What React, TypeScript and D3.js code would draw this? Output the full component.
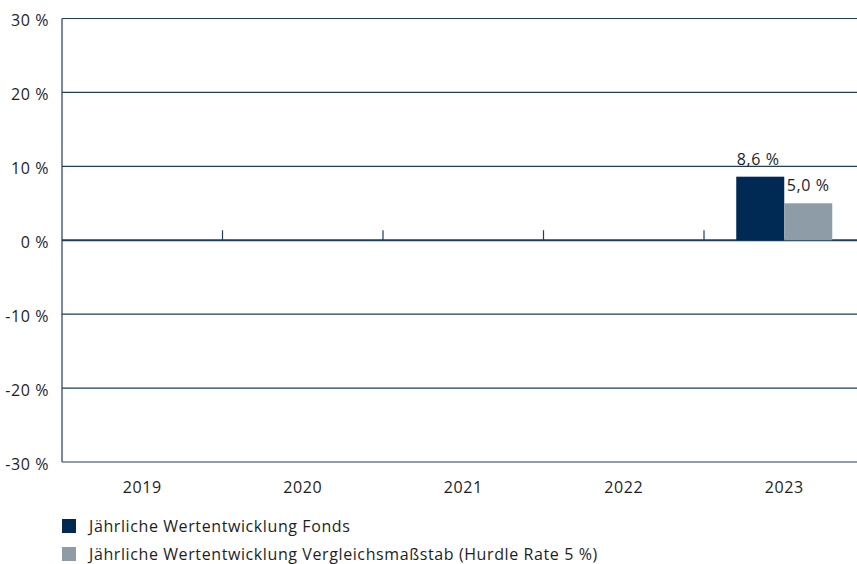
import React from "react";
import * as d3 from "d3";

const categories = ["2019", "2020", "2021", "2022", "2023"];
const fondsValues: (number | null)[] = [null, null, null, null, 8.6];
const benchmarkValues: (number | null)[] = [null, null, null, null, 5.0];
const yTicks = [-30, -20, -10, 0, 10, 20, 30];
const legendLabels = [
  "Jährliche Wertentwicklung Fonds",
  "Jährliche Wertentwicklung Vergleichsmaßstab (Hurdle Rate 5 %)",
];
const seriesColors = ["#002a54", "#8d9ca6"];

const W = 857;
const H = 564;
const FONT = "'Open Sans', 'Noto Sans', sans-serif";
const GRID = "#1d3d66";
const TEXT = "#1e1e1e";
const FS = 16;
const LS = 0.6;

export default function App() {
  const left = 62;
  const bandW = 160.5;
  const x = d3
    .scaleBand<string>()
    .domain(categories)
    .range([left, left + bandW * categories.length])
    .paddingInner(0)
    .paddingOuter(0);
  const y = d3.scaleLinear().domain([-30, 30]).range([462, 18.5]);
  const barW = 48;

  return (
    <svg
      width={W}
      height={H}
      style={{ position: "absolute", left: 0, top: 0, background: "#fff" }}
      fontFamily={FONT}
      letterSpacing={LS}
    >
      {yTicks.map((t) => (
        <line
          key={"g" + t}
          x1={left}
          x2={W}
          y1={y(t)}
          y2={y(t)}
          stroke={GRID}
          strokeWidth={t === 0 ? 2 : 1.2}
        />
      ))}
      <line x1={left} x2={left} y1={y(30)} y2={y(-30)} stroke={GRID} strokeWidth={1.2} />
      {categories.slice(1).map((c) => (
        <line
          key={"t" + c}
          x1={x(c)!}
          x2={x(c)!}
          y1={y(0)}
          y2={y(0) - 10}
          stroke={GRID}
          strokeWidth={1.2}
        />
      ))}
      {yTicks.map((t) => (
        <text
          key={"yl" + t}
          x={49}
          y={y(t) + 2}
          dy="0.35em"
          textAnchor="end"
          fontSize={FS}
          fill={TEXT}
        >
          {t + " %"}
        </text>
      ))}
      {[fondsValues, benchmarkValues].map((series, si) =>
        series.map((v, i) => {
          if (v === null) return null;
          const c = categories[i];
          const cx = x(c)! + x.bandwidth() / 2;
          const bx = cx - barW + si * barW;
          const top = y(Math.max(0, v));
          const h = Math.abs(y(v) - y(0));
          return (
            <g key={"b" + si + i}>
              <rect x={bx} y={top} width={barW} height={h} fill={seriesColors[si]} />
              <text
                x={bx + barW / 2 - (si === 0 ? 2 : 0)}
                y={top - 12}
                textAnchor="middle"
                fontSize={FS}
                fill={TEXT}
              >
                {v.toFixed(1).replace(".", ",") + " %"}
              </text>
            </g>
          );
        })
      )}
      {categories.map((c) => (
        <text
          key={"xl" + c}
          x={x(c)! + x.bandwidth() / 2}
          y={493}
          textAnchor="middle"
          fontSize={FS}
          fill={TEXT}
        >
          {c}
        </text>
      ))}
      {legendLabels.map((l, i) => (
        <g key={"lg" + i}>
          <rect x={62} y={519 + i * 28} width={14} height={14} fill={seriesColors[i]} />
          <text x={89} y={532 + i * 28} fontSize={FS} fill={TEXT}>
            {l}
          </text>
        </g>
      ))}
    </svg>
  );
}
